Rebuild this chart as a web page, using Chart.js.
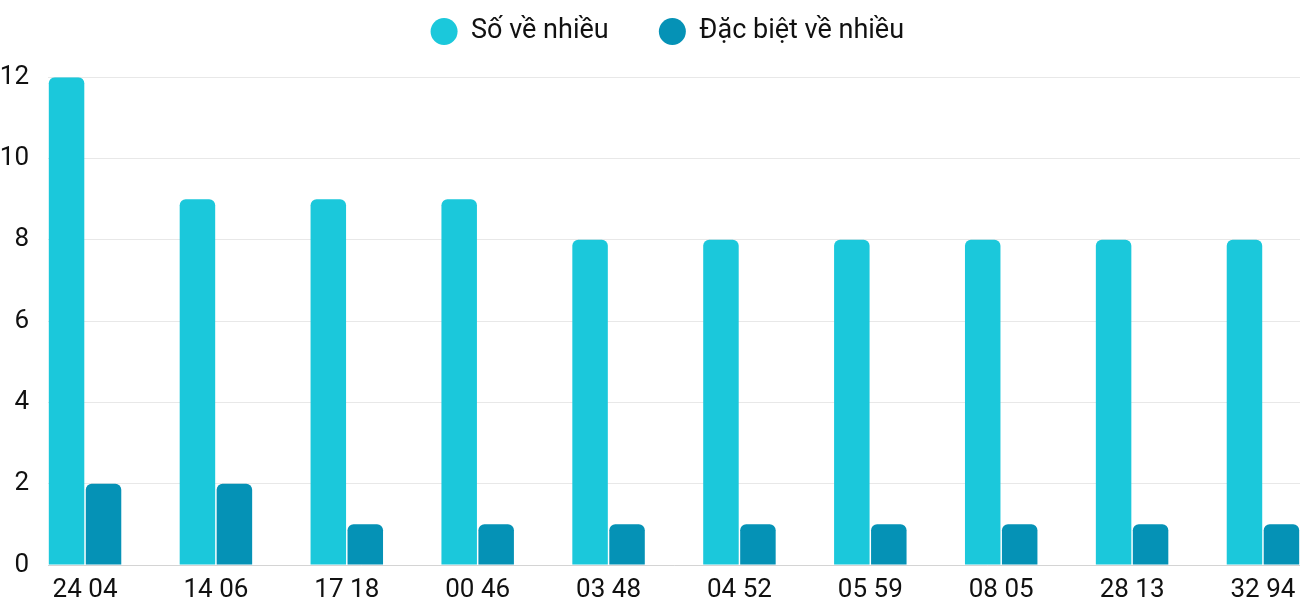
<!DOCTYPE html>
<html>
<head>
<meta charset="utf-8">
<script src="https://cdn.jsdelivr.net/npm/chart.js@4"></script>
<style>
  html, body { margin: 0; padding: 0; background: #fff; }
  #wrap { width: 1300px; height: 600px; position: relative; }
</style>
</head>
<body>
<div id="wrap"><canvas id="chart"></canvas></div>
<script>
const pairs = ['24 04', '14 06', '17 18', '00 46', '03 48', '04 52', '05 59', '08 05', '28 13', '32 94'];
const soVeNhieu = [12, 9, 9, 9, 8, 8, 8, 8, 8, 8];
const dacBietVeNhieu = [2, 2, 1, 1, 1, 1, 1, 1, 1, 1];
const seriesNames = ['Số về nhiều', 'Đặc biệt về nhiều'];
const yTicks = [0, 2, 4, 6, 8, 10, 12];

const toPoints = (arr) => arr.map((v, i) => ({ x: i, y: v }));
// groups sit flush with both plot edges, so the x range is padded by half a group, not half a category
const edge = 0.283;

const tickFont = { family: 'Roboto', size: 26 };
const legendFont = { family: 'Roboto', size: 27 };
const nbsp = (n) => '\u00a0'.repeat(n);

new Chart(document.getElementById('chart'), {
  type: 'bar',
  data: {
    datasets: [
      {
        label: seriesNames[0],
        data: toPoints(soVeNhieu),
        backgroundColor: '#1bc8db',
        borderRadius: { topLeft: 6, topRight: 6 },
        borderSkipped: 'bottom',
        categoryPercentage: 0.565,
        barPercentage: 0.96
      },
      {
        label: seriesNames[1],
        data: toPoints(dacBietVeNhieu),
        backgroundColor: '#0592b6',
        borderRadius: { topLeft: 6, topRight: 6 },
        borderSkipped: 'bottom',
        categoryPercentage: 0.565,
        barPercentage: 0.96
      }
    ]
  },
  options: {
    responsive: true,
    maintainAspectRatio: false,
    animation: false,
    layout: { padding: { top: 8, right: 0, left: 0, bottom: 0 } },
    plugins: {
      legend: {
        position: 'top',
        fullSize: false,
        labels: {
          usePointStyle: true,
          pointStyle: 'circle',
          pointStyleWidth: 27,
          boxHeight: 19,
          padding: 10,
          color: '#111',
          font: legendFont,
          generateLabels: (chart) => Chart.defaults.plugins.legend.labels.generateLabels(chart)
            .map((l, i) => ({ ...l, text: l.text + nbsp(i === 0 ? 6 : 2) }))
        }
      },
      // empty spacer between legend and plot
      subtitle: {
        display: true,
        text: '',
        weight: 500,
        font: { size: 1 },
        padding: { top: 0, bottom: 21 }
      },
      tooltip: { enabled: false }
    },
    scales: {
      x: {
        type: 'linear',
        offset: false,
        min: -edge,
        max: pairs.length - 1 + edge,
        grid: { display: false },
        border: { display: true, color: '#d4d4d4' },
        ticks: {
          stepSize: 1,
          includeBounds: false,
          autoSkip: false,
          maxRotation: 0,
          padding: 2,
          color: '#111',
          font: tickFont,
          callback: (v) => Number.isInteger(v) ? pairs[v] : ''
        },
        afterFit: (s) => { s.height = 35; }
      },
      y: {
        min: 0,
        max: 12,
        grid: { color: '#e8e8e8', drawTicks: false },
        border: { display: false },
        afterBuildTicks: (s) => { s.ticks = yTicks.map(v => ({ value: v })); },
        ticks: {
          padding: 19,
          color: '#111',
          font: tickFont
        },
        afterFit: (s) => { s.width = 48; }
      }
    }
  }
});
</script>
</body>
</html>
